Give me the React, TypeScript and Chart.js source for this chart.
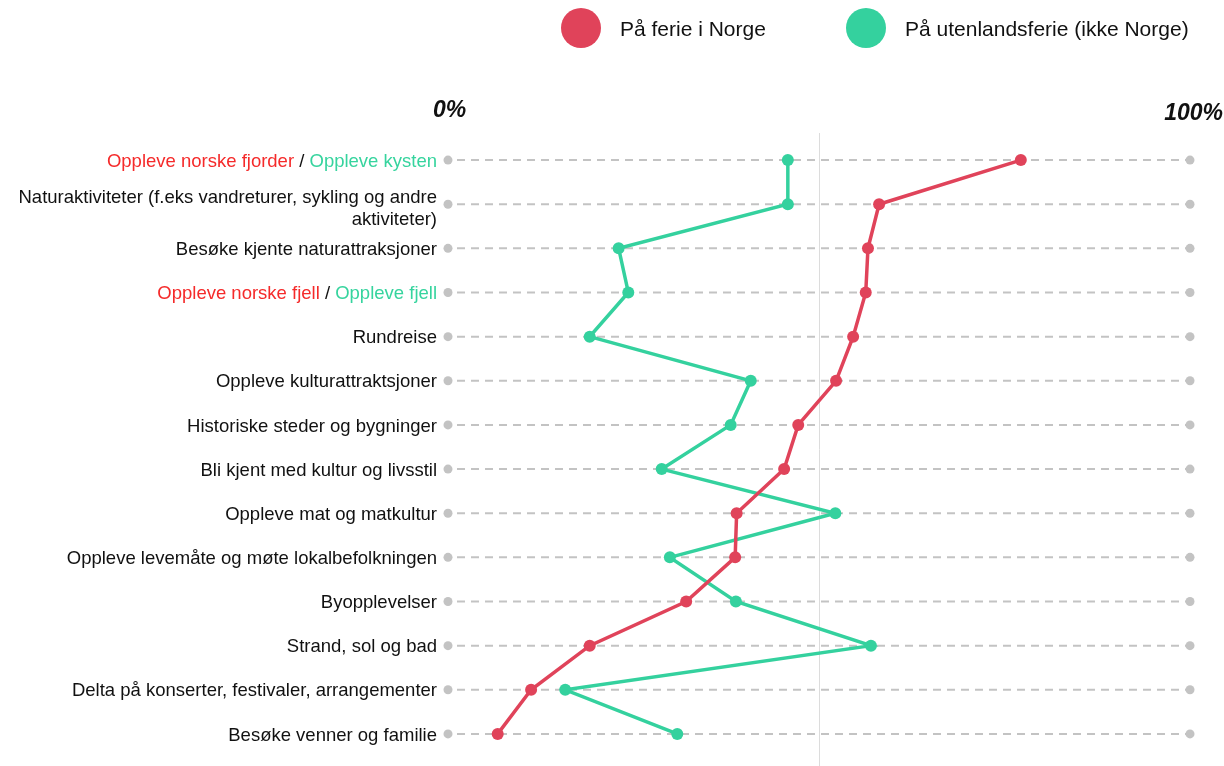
import React, { useEffect, useRef } from "react";
import { Chart, registerables } from "chart.js";

Chart.register(...registerables);

const categories = [
  "Oppleve norske fjorder / Oppleve kysten",
  "Naturaktiviteter (f.eks vandreturer, sykling og andre aktiviteter)",
  "Besøke kjente naturattraksjoner",
  "Oppleve norske fjell / Oppleve fjell",
  "Rundreise",
  "Oppleve kulturattraktsjoner",
  "Historiske steder og bygninger",
  "Bli kjent med kultur og livsstil",
  "Oppleve mat og matkultur",
  "Oppleve levemåte og møte lokalbefolkningen",
  "Byopplevelser",
  "Strand, sol og bad",
  "Delta på konserter, festivaler, arrangementer",
  "Besøke venner og familie",
];

const norgeValues = [77.2, 58.1, 56.6, 56.3, 54.6, 52.3, 47.2, 45.3, 38.9, 38.7, 32.1, 19.1, 11.2, 6.7];
const utlandValues = [45.8, 45.8, 23.0, 24.3, 19.1, 40.8, 38.1, 28.8, 52.2, 29.9, 38.8, 57.0, 15.8, 30.9];

const seriesNames = ["På ferie i Norge", "På utenlandsferie (ikke Norge)"];
const axisEndLabels = ["0%", "100%"];

const RED = "#e0435a";
const GREEN = "#34d19e";
const TXT_RED = "#f52a2a";
const TXT_GREEN = "#36d49e";
const FONT = "'Liberation Sans', Arial, Helvetica, sans-serif";

type Part = { t: string; c: string };
const labelParts: Record<number, Part[]> = {
  0: [
    { t: "Oppleve norske fjorder", c: TXT_RED },
    { t: " / ", c: "#111" },
    { t: "Oppleve kysten", c: TXT_GREEN },
  ],
  3: [
    { t: "Oppleve norske fjell", c: TXT_RED },
    { t: " / ", c: "#111" },
    { t: "Oppleve fjell", c: TXT_GREEN },
  ],
};
const multiLine: Record<number, string[]> = {
  1: ["Naturaktiviteter (f.eks vandreturer, sykling og andre", "aktiviteter)"],
};

const decorPlugin = {
  id: "decor",
  beforeDatasetsDraw(chart: any) {
    const { ctx } = chart;
    const xs = chart.scales.x;
    const ys = chart.scales.y;
    const x0 = xs.getPixelForValue(0);
    const x1 = xs.getPixelForValue(100);
    const xm = xs.getPixelForValue(50);
    ctx.save();
    ctx.strokeStyle = "#dcdcdc";
    ctx.lineWidth = 1;
    ctx.beginPath();
    ctx.moveTo(Math.round(xm) + 0.5, 133);
    ctx.lineTo(Math.round(xm) + 0.5, chart.height);
    ctx.stroke();
    categories.forEach((_, i) => {
      const y = ys.getPixelForValue(i);
      ctx.strokeStyle = "#c3c3c3";
      ctx.lineWidth = 2;
      ctx.setLineDash([8, 6]);
      ctx.beginPath();
      ctx.moveTo(x0 + 9, y);
      ctx.lineTo(x1 - 4, y);
      ctx.stroke();
      ctx.setLineDash([]);
      ctx.fillStyle = "#c3c3c3";
      ctx.beginPath();
      ctx.arc(x0, y, 4.5, 0, Math.PI * 2);
      ctx.fill();
      ctx.beginPath();
      ctx.arc(x1, y, 4.5, 0, Math.PI * 2);
      ctx.fill();
    });
    ctx.restore();
  },
  afterDraw(chart: any) {
    const { ctx } = chart;
    const xs = chart.scales.x;
    const ys = chart.scales.y;
    const x0 = xs.getPixelForValue(0);
    ctx.save();
    ctx.font = `18.5px ${FONT}`;
    ctx.textBaseline = "middle";
    const right = x0 - 11;
    categories.forEach((cat, i) => {
      const y = ys.getPixelForValue(i) + 1.5;
      ctx.textAlign = "right";
      if (labelParts[i]) {
        const parts = labelParts[i];
        let x = right;
        for (let k = parts.length - 1; k >= 0; k--) {
          ctx.fillStyle = parts[k].c;
          ctx.fillText(parts[k].t, x, y);
          x -= ctx.measureText(parts[k].t).width;
        }
      } else if (multiLine[i]) {
        ctx.fillStyle = "#111";
        ctx.fillText(multiLine[i][0], right, y - 8);
        ctx.fillText(multiLine[i][1], right, y + 14);
      } else {
        ctx.fillStyle = "#111";
        ctx.fillText(cat, right, y);
      }
    });
    ctx.font = `italic bold 23px ${FONT}`;
    ctx.fillStyle = "#111";
    ctx.textAlign = "left";
    ctx.fillText(axisEndLabels[0], 433, 111);
    ctx.textAlign = "right";
    ctx.fillText(axisEndLabels[1], 1223, 114);
    const legendItems = [
      { name: seriesNames[0], color: RED, cx: 581 },
      { name: seriesNames[1], color: GREEN, cx: 866 },
    ];
    ctx.font = `21px ${FONT}`;
    ctx.textAlign = "left";
    legendItems.forEach((it) => {
      ctx.fillStyle = it.color;
      ctx.beginPath();
      ctx.arc(it.cx, 28, 20, 0, Math.PI * 2);
      ctx.fill();
      ctx.fillStyle = "#111";
      ctx.fillText(it.name, it.cx + 39, 30);
    });
    ctx.restore();
  },
};

export default function App() {
  const ref = useRef<HTMLCanvasElement | null>(null);
  useEffect(() => {
    if (!ref.current) return;
    const chart = new Chart(ref.current, {
      type: "line",
      data: {
        labels: categories,
        datasets: [
          {
            label: seriesNames[0],
            data: norgeValues,
            borderColor: RED,
            backgroundColor: RED,
            borderWidth: 3.5,
            pointRadius: 6,
            pointHoverRadius: 6,
            pointBackgroundColor: RED,
            pointBorderWidth: 0,
            tension: 0,
          },
          {
            label: seriesNames[1],
            data: utlandValues,
            borderColor: GREEN,
            backgroundColor: GREEN,
            borderWidth: 3.5,
            pointRadius: 6,
            pointHoverRadius: 6,
            pointBackgroundColor: GREEN,
            pointBorderWidth: 0,
            tension: 0,
          },
        ],
      },
      options: {
        indexAxis: "y",
        responsive: false,
        animation: false,
        layout: { padding: { left: 448, right: 34, top: 138, bottom: 10 } },
        plugins: { legend: { display: false }, tooltip: { enabled: false } },
        scales: {
          x: { type: "linear", min: 0, max: 100, display: false },
          y: { type: "category", offset: true, display: false },
        },
      },
      plugins: [decorPlugin],
    });
    return () => chart.destroy();
  }, []);
  return (
    <div style={{ position: "fixed", left: 0, top: 0, width: 1224, height: 766, background: "#fff" }}>
      <canvas ref={ref} width={1224} height={766} style={{ display: "block" }} />
    </div>
  );
}
